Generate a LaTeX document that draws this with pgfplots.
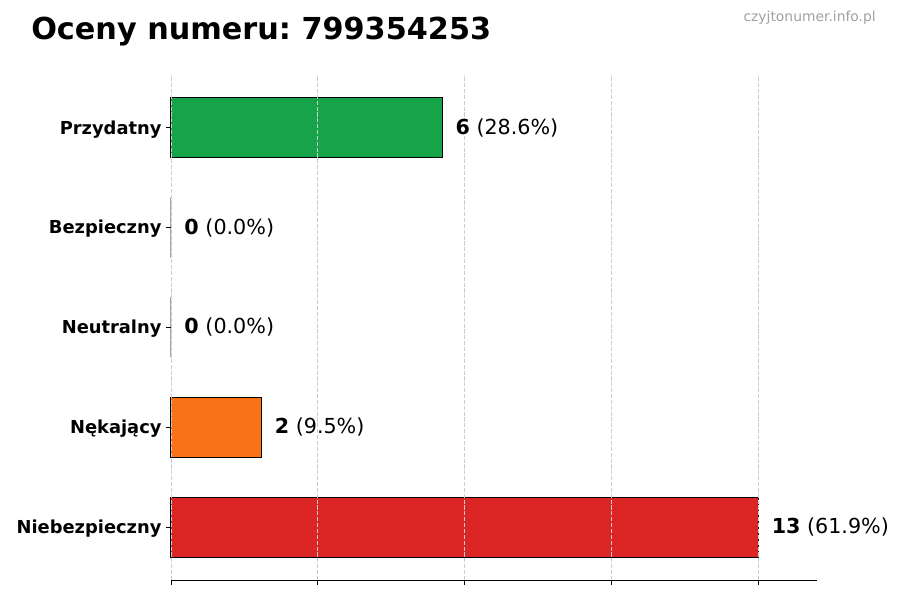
\documentclass[border=0pt]{standalone}
\usepackage{fontspec}
\setmainfont{DejaVu Sans}
\usepackage{pgfplots}
\pgfplotsset{compat=1.18}
\frenchspacing

\definecolor{cgreen}{HTML}{16A34A}
\definecolor{corange}{HTML}{F97316}
\definecolor{cred}{HTML}{DC2626}
\definecolor{cgrid}{HTML}{CCCCCC}
\definecolor{cmark}{HTML}{A0A0A0}

\begin{document}
\begin{tikzpicture}
    \path[use as bounding box] (0,0) rectangle (675pt,450pt);
    \begin{axis}[
        at={(128.25pt,15pt)},
        anchor=south west,
        scale only axis,
        width=484.5pt,
        height=378.75pt,
        clip=false,
        xbar,
        bar shift=0pt,
        bar width=45pt,
        xmin=0, xmax=14.3,
        ymin=-0.53, ymax=4.53,
        axis lines=left,
        axis line style={-, black, line width=0.6pt},
        y axis line style={draw=none},
        xtick={0,3.25,6.5,9.75,13},
        xticklabels={},
        ytick={0,1,2,3,4},
        yticklabels={Niebezpieczny,Nękający,Neutralny,Bezpieczny,Przydatny},
        yticklabel style={font=\fontsize{13.4}{16}\selectfont\bfseries, yshift=-1pt},
        tick align=outside,
        major tick length=3.6pt,
        tick style={black, line width=0.6pt},
        xmajorgrids=true,
        grid style={cgrid, dash pattern=on 3.1pt off 1.3pt, line width=0.6pt},
        axis on top,
        /pgf/number format/assume math mode=true,
        nodes near coords={\pgfplotspointmeta},
        point meta=explicit symbolic,
        every node near coord/.append style={
            anchor=west, inner sep=0pt, xshift=9.75pt,
            font=\fontsize{15.5}{18}\selectfont, black},
    ]
    \addplot[fill=cgreen, draw=black, line width=0.75pt]
        coordinates {(6,4) [\textbf{6} (28.6\%)]};
    \addplot[fill=cgreen, draw=black, line width=0.75pt]
        coordinates {(0,3) [\textbf{0} (0.0\%)]};
    \addplot[fill=cgreen, draw=black, line width=0.75pt]
        coordinates {(0,2) [\textbf{0} (0.0\%)]};
    \addplot[fill=corange, draw=black, line width=0.75pt]
        coordinates {(2,1) [\textbf{2} (9.5\%)]};
    \addplot[fill=cred, draw=black, line width=0.75pt]
        coordinates {(13,0) [\textbf{13} (61.9\%)]};
    \end{axis}
    \node[anchor=base west, inner sep=0pt, font=\fontsize{22.7}{26}\selectfont\bfseries]
        at (23.25pt,420pt) {Oceny numeru: 799354253};
    \node[anchor=base east, inner sep=0pt, font=\fontsize{10.4}{12}\selectfont, text=cmark]
        at (657pt,433.5pt) {czyjtonumer.info.pl};
\end{tikzpicture}
\end{document}
